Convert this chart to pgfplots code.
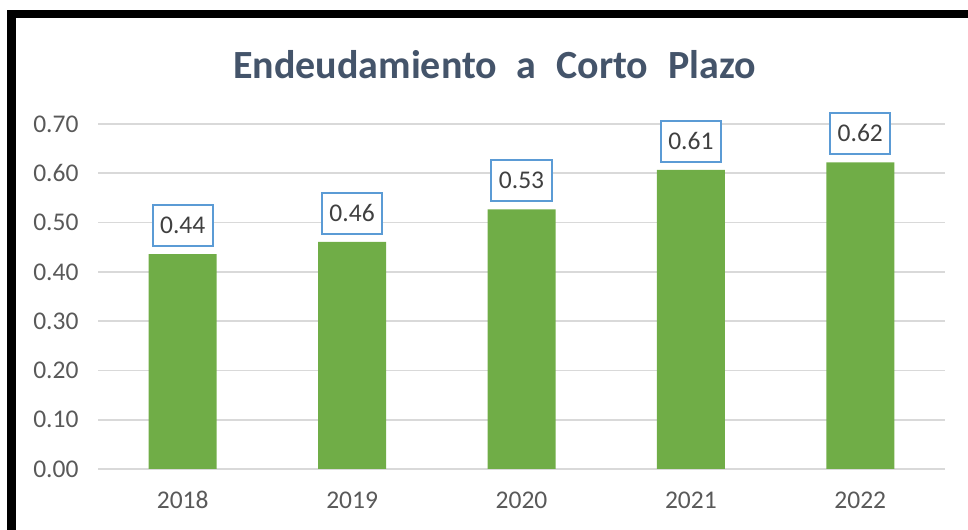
\documentclass[border=0pt]{standalone}
\usepackage{fontspec}
\setmainfont{Carlito}
\usepackage{pgfplots}
\pgfplotsset{compat=1.18}
\definecolor{bargreen}{HTML}{70AD47}
\definecolor{titleblue}{HTML}{44546A}
\definecolor{ticktext}{HTML}{595959}
\definecolor{gridgray}{HTML}{D9D9D9}
\definecolor{boxblue}{HTML}{5B9BD5}
\definecolor{labeltext}{HTML}{404040}

\begin{document}
\begin{tikzpicture}
\useasboundingbox (0,0) rectangle (968bp,530bp);
% frame
\draw[line width=8.5bp, line join=miter] (11.5bp,0) -- (11.5bp,516bp) -- (968bp,516bp);
% title
\node[anchor=base, text=titleblue, font=\fontsize{40bp}{44bp}\selectfont\bfseries]
  at (494.5bp,451bp) {Endeudamiento\hspace{0.27em} a\hspace{0.27em} Corto\hspace{0.27em} Plazo};

\begin{axis}[
  at={(98bp,61bp)}, anchor=south west,
  scale only axis, width=847bp, height=345bp,
  xmin=-0.5, xmax=4.5, ymin=0, ymax=0.7,
  axis line style={draw=none},
  ymajorgrids, grid style={gridgray, line width=1.8bp},
  ytick={0,0.1,0.2,0.3,0.4,0.5,0.6,0.7},
  xtick={0,1,2,3,4}, xticklabels={2018,2019,2020,2021,2022},
  major tick length=0pt,
  /pgf/number format/assume math mode=true,
  yticklabel style={/pgf/number format/fixed, /pgf/number format/fixed zerofill,
    /pgf/number format/precision=2, text=ticktext, font=\fontsize{25.5bp}{28bp}\selectfont,
    xshift=-16bp},
  xticklabel style={text=ticktext, font=\fontsize{25.5bp}{28bp}\selectfont, yshift=-19bp},
  ybar, bar width=68bp,
  point meta=explicit symbolic,
  nodes near coords,
  every node near coord/.append style={anchor=south, yshift=8bp, fill=white,
    draw=boxblue, line width=2bp, outer sep=0pt, inner xsep=7.5bp, inner ysep=12.5bp,
    text=labeltext, text height=16bp, text depth=0pt,
    font=\fontsize{25.5bp}{28bp}\selectfont},
]
\addplot[fill=bargreen, draw=none] coordinates {
  (0,0.436) [0.44]
  (1,0.461) [0.46]
  (2,0.527) [0.53]
  (3,0.607) [0.61]
  (4,0.622) [0.62]
};
\end{axis}
\end{tikzpicture}
\end{document}
